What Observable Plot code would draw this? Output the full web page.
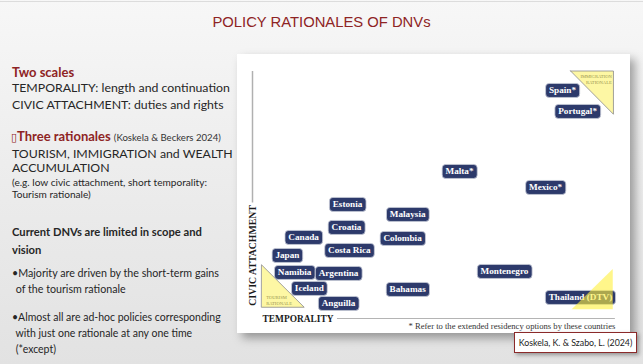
<!DOCTYPE html>
<html>
<head>
<meta charset="utf-8">
<script src="https://cdn.jsdelivr.net/npm/d3@7"></script>
<script src="https://cdn.jsdelivr.net/npm/@observablehq/plot@0.6"></script>
<style>
  html, body { margin: 0; padding: 0; }
  #page {
    position: relative; width: 643px; height: 364px; overflow: hidden;
    background: linear-gradient(180deg, #f7f7f7 0%, #eeeeee 40%, #e2e2e2 100%);
    font-family: Lato, "Open Sans", sans-serif;
  }
  #topline { position:absolute; left:0; top:1px; width:643px; height:1px; background:#dcdcdc; }
  #title {
    position: absolute; left: 0; width: 643px; top: 14px; text-align: center;
    font-family: "Liberation Sans", Arial, sans-serif; font-size: 14.8px; color: #8e2424;
  }
  #card {
    position: absolute; left: 237px; top: 54px; width: 393px; height: 279px;
    background: #fff; box-shadow: 5px 5px 9px rgba(0,0,0,0.35);
  }
  .ln { position: absolute; left: 12px; white-space: nowrap; color: #262626; font-size: 12.3px; line-height: 16px; }
  .red { color: #8e2424; font-weight: bold; }
  .small { font-size: 9.6px; }
  .mid { font-size: 10.1px; }
  #cite {
    position: absolute; left: 514px; top: 332px; width: 121px; height: 19px; white-space: nowrap;
    background: #fff; border: 1.5px solid #8b2a2a; box-shadow: 2px 2px 4px rgba(0,0,0,0.35);
    font-family: Lato, sans-serif; font-size: 8.8px; color: #222; line-height: 19px; text-align: center;
  }
  #plotwrap { position: absolute; left: 0; top: 0; }
</style>
</head>
<body>
<div id="page">
  <div id="topline"></div>
  <div id="title">POLICY RATIONALES OF DNVs</div>
  <div id="card"></div>

  <div class="ln red" style="top:64px;font-size:13px;">Two scales</div>
  <div class="ln" style="top:80px;">TEMPORALITY: length and continuation</div>
  <div class="ln" style="top:96.5px;">CIVIC ATTACHMENT: duties and rights</div>
  <div class="ln" style="top:128px;left:11px;"><span class="red" style="font-weight:normal;font-family:'DejaVu Sans';font-size:11px;">▯</span><span class="red" style="font-size:13px;">Three rationales</span> <span class="small" style="color:#333;">(Koskela &amp; Beckers 2024)</span></div>
  <div class="ln" style="top:146px;">TOURISM, IMMIGRATION and WEALTH</div>
  <div class="ln" style="top:160px;">ACCUMULATION</div>
  <div class="ln mid" style="top:175px;line-height:14px;">(e.g. low civic attachment, short temporality:</div>
  <div class="ln mid" style="top:187px;line-height:14px;">Tourism rationale)</div>
  <div class="ln" style="top:224px;font-weight:bold;font-size:11.2px;">Current DNVs are limited in scope and</div>
  <div class="ln" style="top:242px;font-weight:bold;font-size:11.2px;">vision</div>
  <div class="ln" style="top:265px;font-size:10.7px;">•Majority are driven by the short-term gains</div>
  <div class="ln" style="top:281px;left:13px;font-size:10.7px;">&nbsp;of the tourism rationale</div>
  <div class="ln" style="top:309px;font-size:10.5px;">•Almost all are ad-hoc policies corresponding</div>
  <div class="ln" style="top:325px;left:13px;font-size:10.5px;">&nbsp;with just one rationale at any one time</div>
  <div class="ln" style="top:341px;left:13px;font-size:10.5px;">&nbsp;(*except)</div>

  <div id="plotwrap"></div>
  <div id="cite">Koskela, K. &amp; Szabo, L. (2024)</div>
</div>
<script>
// ---- Data ----
const countries   = ["Spain*", "Portugal*", "Malta*", "Mexico*", "Estonia", "Malaysia", "Croatia", "Canada", "Colombia", "Costa Rica", "Japan", "Namibia", "Argentina", "Montenegro", "Iceland", "Bahamas", "Anguilla", "Thailand (DTV)"];
const temporality = [8.61, 9.03, 5.75, 8.14, 2.64, 4.31, 2.61, 1.42, 4.17, 2.69, 0.97, 1.17, 2.39, 7.00, 1.58, 4.31, 2.39, 9.11];
const civicAttach = [9.12, 8.28, 5.88, 5.24, 4.56, 4.16, 3.64, 3.24, 3.20, 2.72, 2.52, 1.84, 1.80, 1.88, 1.20, 1.16, 0.60, 0.84];

// rationale zones (triangles) as corner lists: x, lower y, upper y
const tourismZone     = [{x: 0.27, y1: 0.43, y2: 2.12}, {x: 1.45, y1: 0.43, y2: 0.43}];
const immigrationZone = [{x: 8.85, y1: 9.88, y2: 9.88}, {x: 10.04, y1: 8.15, y2: 9.88}];
const thailandZone    = [{x: 8.88, y1: 0.35, y2: 0.35}, {x: 10.02, y1: 0.35, y2: 1.96}];
const tourismLabel     = [{x: 0.38, y: 0.74, text: "TOURISM\nRATIONALE"}];
const immigrationLabel = [{x: 9.98, y: 9.57, text: "IMMIGRATION\nRATIONALE"}];
const axisYLine = [{x: 0, y1: 4.62, y2: 9.88}];
const axisXLine = [{y: 0, x1: 2.36, x2: 10.08}];
const footnote = "* Refer to the extended residency options by these countries";

const points = countries.map((c, i) => ({name: c, t: temporality[i], c: civicAttach[i]}));

const serif = "'Liberation Serif', 'DejaVu Serif', serif";

const chart = Plot.plot({
  width: 643, height: 364, margin: 0,
  x: {domain: [0, 10], range: [252, 612], axis: null},
  y: {domain: [0, 10], range: [318, 68], axis: null},
  style: {background: "transparent", overflow: "visible"},
  marks: [
    Plot.ruleX(axisYLine, {x: "x", y1: "y1", y2: "y2", stroke: "#b0b0b0", strokeWidth: 1.5}),
    Plot.ruleY(axisXLine, {y: "y", x1: "x1", x2: "x2", stroke: "#b4b4b4", strokeWidth: 1.2}),
    Plot.text(["CIVIC ATTACHMENT"], {x: [0], y: [2.52], text: d => d, rotate: -90, fontWeight: "bold", fontSize: 9.8, fontFamily: serif, fill: "#1a1a1a"}),
    Plot.text(["TEMPORALITY"], {x: [0.28], y: [0], text: d => d, textAnchor: "start", fontWeight: "bold", fontSize: 9.4, fontFamily: serif, fill: "#1a1a1a"}),
    Plot.text([footnote], {x: [10.08], y: [-0.3], text: d => d, textAnchor: "end", fontSize: 8.6, fontFamily: serif, fill: "#333"}),
    Plot.areaY(tourismZone, {x: "x", y1: "y1", y2: "y2", fill: "#fdf7a4", stroke: "#8a8a8a", strokeWidth: 0.8}),
    Plot.areaY(immigrationZone, {x: "x", y1: "y1", y2: "y2", fill: "#fdf7a4", stroke: "#8a8a8a", strokeWidth: 0.8}),
    Plot.text(tourismLabel, {x: "x", y: "y", text: "text", textAnchor: "start", fontSize: 4.6, lineHeight: 1.25, fontFamily: serif, fill: "#9a9550"}),
    Plot.text(immigrationLabel, {x: "x", y: "y", text: "text", textAnchor: "end", fontSize: 4.6, lineHeight: 1.25, fontFamily: serif, fill: "#9a9550"}),
    Plot.text(points, {x: "t", y: "c", text: "name", fill: "white", fontWeight: "bold", fontSize: 9.2, fontFamily: serif}),
    Plot.areaY(thailandZone, {x: "x", y1: "y1", y2: "y2", fill: "#fff03c", fillOpacity: 0.6})
  ]
});

document.getElementById("plotwrap").append(chart);

// rounded navy boxes behind each country label
const ns = "http://www.w3.org/2000/svg";
const names = new Set(countries);
chart.querySelectorAll("text").forEach(t => {
  if (!names.has(t.textContent)) return;
  const b = t.getBBox();
  const r = document.createElementNS(ns, "rect");
  const padX = 3.3, h = 14;
  r.setAttribute("x", b.x - padX);
  r.setAttribute("y", b.y + b.height / 2 - h / 2);
  r.setAttribute("width", b.width + 2 * padX);
  r.setAttribute("height", h);
  r.setAttribute("rx", 3.5);
  r.setAttribute("fill", "#2d3a6b");
  r.setAttribute("stroke", "#c8cbd8");
  r.setAttribute("stroke-width", 0.8);
  if (t.getAttribute("transform")) r.setAttribute("transform", t.getAttribute("transform"));
  t.parentNode.insertBefore(r, t);
});
</script>
</body>
</html>
